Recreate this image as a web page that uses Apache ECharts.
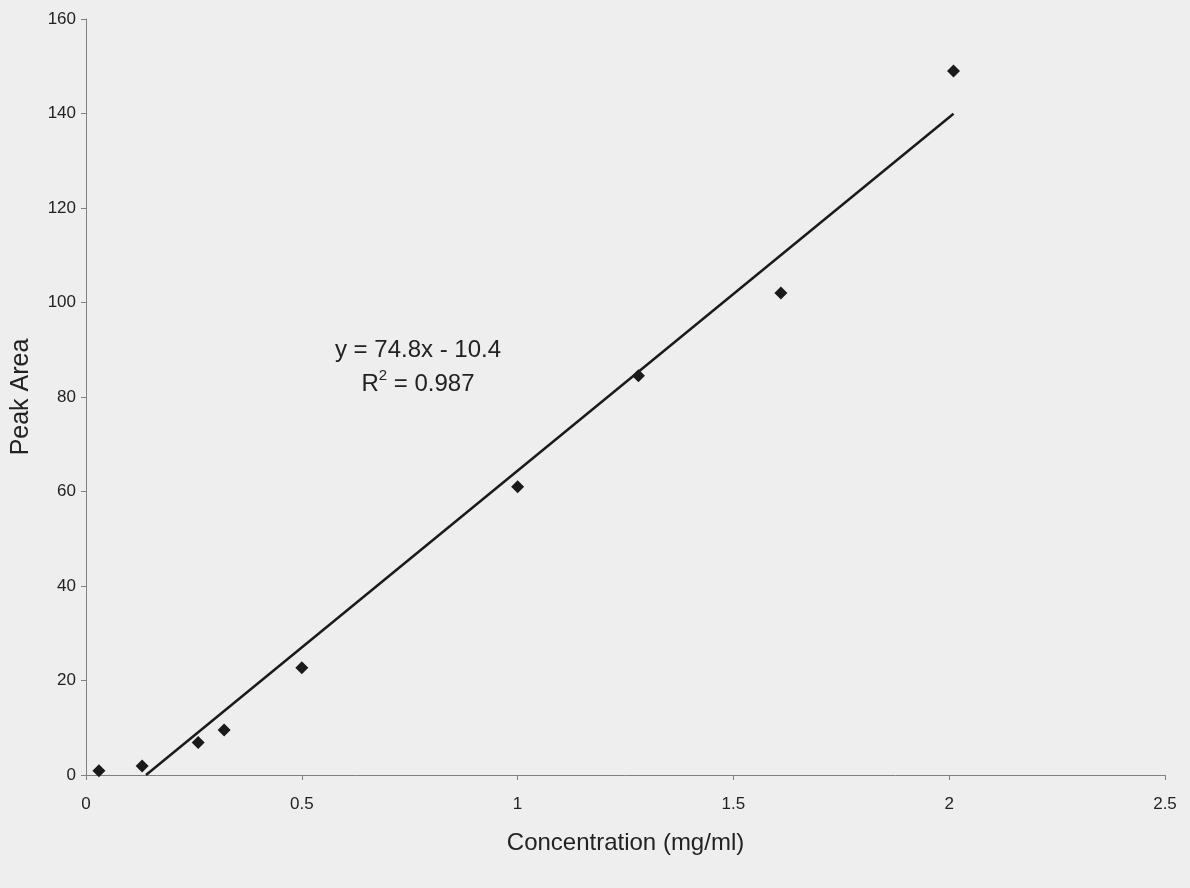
<!DOCTYPE html>
<html>
<head>
<meta charset="utf-8">
<script src="https://cdn.jsdelivr.net/npm/echarts@6/dist/echarts.min.js"></script>
<style>
  html, body { margin: 0; padding: 0; background: #eeeeee; }
  #chart { width: 1190px; height: 888px; }
</style>
</head>
<body>
<div id="chart"></div>
<script>
// Calibration measurements: concentration (mg/ml) vs. peak area
const concentration = [0.03, 0.13, 0.26, 0.32, 0.50, 1.00, 1.28, 1.61, 2.01];
const peakArea      = [0.9, 1.9, 6.9, 9.5, 22.7, 61.0, 84.5, 102.0, 149.0];

// Linear fit reported on the chart
const fitSlope = 74.8;
const fitIntercept = -10.4;
const fitR2 = 0.987;
const fitXEnd = 2.01;

const xTicks = { min: 0, max: 2.5, interval: 0.5 };
const yTicks = { min: 0, max: 160, interval: 20 };

const points = concentration.map((c, i) => [c, peakArea[i]]);
const fitXStart = -fitIntercept / fitSlope;
const fitLine = [fitXStart, fitXEnd].map(x => [x, fitSlope * x + fitIntercept]);

const textColor = '#222';
const axisColor = '#808080';
const font = '"Liberation Sans", Arial, sans-serif';

const chart = echarts.init(document.getElementById('chart'), null, { renderer: 'canvas' });
chart.setOption({
  backgroundColor: '#eeeeee',
  animation: false,
  grid: { left: 86, right: 25, top: 19, bottom: 113 },
  xAxis: {
    type: 'value',
    min: xTicks.min, max: xTicks.max, interval: xTicks.interval,
    name: 'Concentration (mg/ml)',
    nameLocation: 'middle',
    nameGap: 56,
    nameTextStyle: { color: textColor, fontSize: 24, fontFamily: font },
    axisLine: { lineStyle: { color: axisColor, width: 1 } },
    axisTick: { show: true, length: 5, lineStyle: { color: axisColor } },
    axisLabel: { color: textColor, fontSize: 17, fontFamily: font, margin: 21 },
    splitLine: { show: false }
  },
  yAxis: {
    type: 'value',
    min: yTicks.min, max: yTicks.max, interval: yTicks.interval,
    name: 'Peak Area',
    nameLocation: 'middle',
    nameGap: 52,
    nameRotate: 90,
    nameTextStyle: { color: textColor, fontSize: 25, fontFamily: font },
    axisLine: { show: true, lineStyle: { color: axisColor, width: 1 } },
    axisTick: { show: true, length: 5, lineStyle: { color: axisColor } },
    axisLabel: { color: textColor, fontSize: 17, fontFamily: font, margin: 10 },
    splitLine: { show: false }
  },
  series: [
    {
      name: 'Fit',
      type: 'line',
      data: fitLine,
      symbol: 'none',
      lineStyle: { color: '#1a1a1a', width: 2.5 },
      z: 2
    },
    {
      name: 'Peak Area',
      type: 'scatter',
      data: points,
      symbol: 'diamond',
      symbolSize: [13, 13],
      itemStyle: { color: '#1a1a1a', opacity: 1 },
      z: 3
    }
  ],
  graphic: [
    {
      type: 'text',
      x: 418, y: 350,
      style: {
        text: 'y = 74.8x - 10.4',
        fill: textColor,
        font: '24px ' + font,
        align: 'center',
        verticalAlign: 'middle'
      }
    },
    {
      type: 'text',
      x: 418, y: 382,
      style: {
        text: '{r|R}{s|2}{r| = ' + fitR2.toFixed(3) + '}',
        align: 'center',
        verticalAlign: 'middle',
        rich: {
          r: { fill: textColor, fontSize: 24, fontFamily: font, verticalAlign: 'bottom', lineHeight: 28 },
          s: { fill: textColor, fontSize: 15, fontFamily: font, verticalAlign: 'top', lineHeight: 28, padding: [0, 0, 12, 0] }
        }
      }
    }
  ]
});
</script>
</body>
</html>
